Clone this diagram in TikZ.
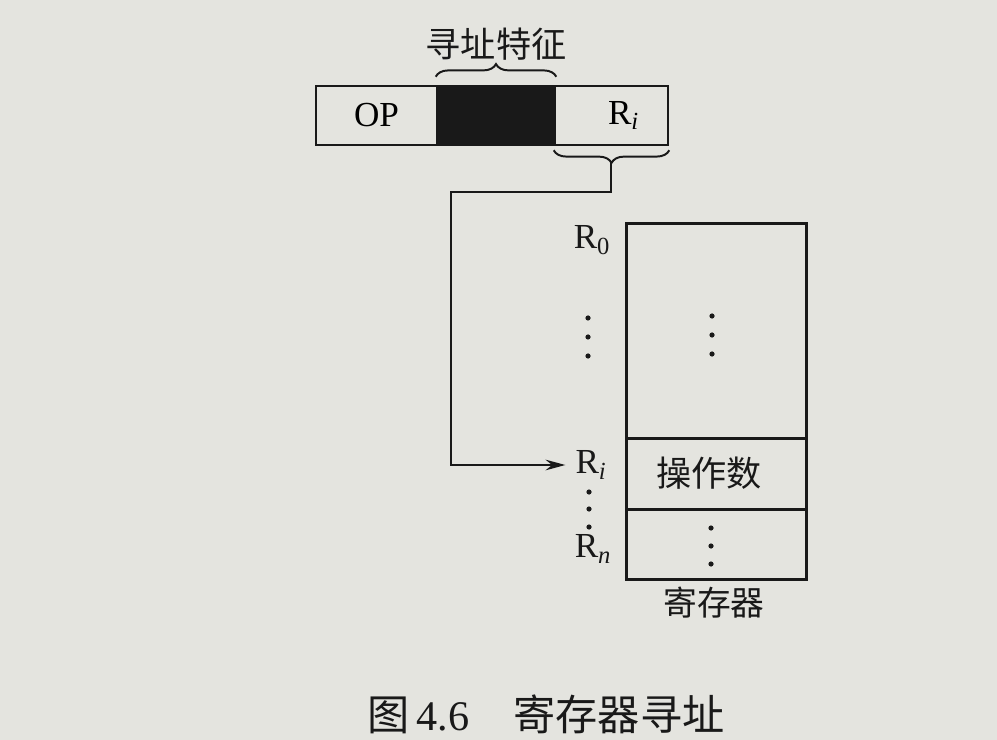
\documentclass[tikz,border=0pt]{standalone}
\usepackage{fontspec}
\setmainfont{Liberation Serif}
\newfontfamily\cjk{Noto Sans CJK SC}
\usetikzlibrary{positioning, calc, decorations.pathreplacing, arrows.meta}
\definecolor{paper}{RGB}{228,228,223}
\definecolor{ink}{RGB}{25,25,25}
\tikzset{
cell/.style={draw=ink, line width=1.8pt, minimum height=1.475cm, inner sep=0pt, font=\fontsize{25}{25}\selectfont},
reg/.style={draw=ink, line width=1.8pt, minimum width=4.5cm, inner sep=0pt},
lbl/.style={inner sep=1pt, font=\fontsize{25}{25}\selectfont, text=ink},
cn/.style={inner sep=0pt, font=\cjk\fontsize{24}{24}\selectfont, text=ink},
brc/.style={draw=ink, line width=1.4pt, decorate, decoration={brace, amplitude=9pt}},
dot/.style={fill=ink},
}
\newcommand{\sub}[1]{\textsubscript{#1}}

\begin{document}
\begin{tikzpicture}[x=0.025cm, y=-0.025cm]
    \fill[paper] (0,0) rectangle (997,740);
    \useasboundingbox (0,0) rectangle (997,740);

    %instruction word
    \node[cell, minimum width=3.025cm]            (op) at (376.5,115.5) {OP};
    \node[cell, minimum width=2.95cm, fill=ink]   (mode) at (496,115.5) {};
    \node[cell, minimum width=2.825cm]            (rf) at (611.5,115.5) {\hspace{0.6cm}R\sub{\textit{i}}};

    %braces
    \draw[brc] ($(mode.north west)+(0,-8)$) -- ($(mode.north east)+(0,-8)$);
    \node[cn, font=\cjk\fontsize{25}{25}\selectfont] (feat) at (496,44) {寻址特征};
    \draw[brc, decoration={mirror}] ($(rf.south west)+(0,4)$) -- ($(rf.south east)+(0,4)$);
    \coordinate (tip) at (611,162);
    \coordinate (bend) at (451,192);

    %register file
    \node[reg, minimum height=5.375cm, anchor=north west] (top) at (625,222) {};
    \node[reg, minimum height=1.775cm, anchor=north west] (opd) at (625,437) {};
    \node[reg, minimum height=1.75cm,  anchor=north west] (bot) at (625,508) {};
    \node[cn, font=\cjk\fontsize{25}{25}\selectfont] (opdtxt) at (709,473) {操作数};
    \node[cn] (regname) at (714,603) {寄存器};

    %register labels
    \node[lbl] (r0) at (592,240) {R\sub{0}};
    \node[lbl] (ri) at (591,465) {R\sub{\textit{i}}};
    \node[lbl] (rn) at (593,549) {R\sub{\textit{n}}};

    %dots
    \foreach \y in {318,337,356} \fill[dot] (588,\y) circle (2.6);
    \foreach \y in {316,335,354} \fill[dot] (712,\y) circle (2.6);
    \foreach \y in {492,509,527} \fill[dot] (589,\y) circle (2.6);
    \foreach \y in {528,546,564} \fill[dot] (711,\y) circle (2.6);

    %pointer
    \draw[ink, line width=1.8pt, -{Stealth[length=14pt, width=7.5pt]}] (tip) |- (bend) |- ([xshift=-6pt]ri.west);

    %caption
    \node[cn, font=\cjk\fontsize{30}{30}\selectfont] (cap) at (546,714) {图\,{\fontspec{Liberation Serif}4.6}\hspace{1.1cm}寄存器寻址};
\end{tikzpicture}
\end{document}
